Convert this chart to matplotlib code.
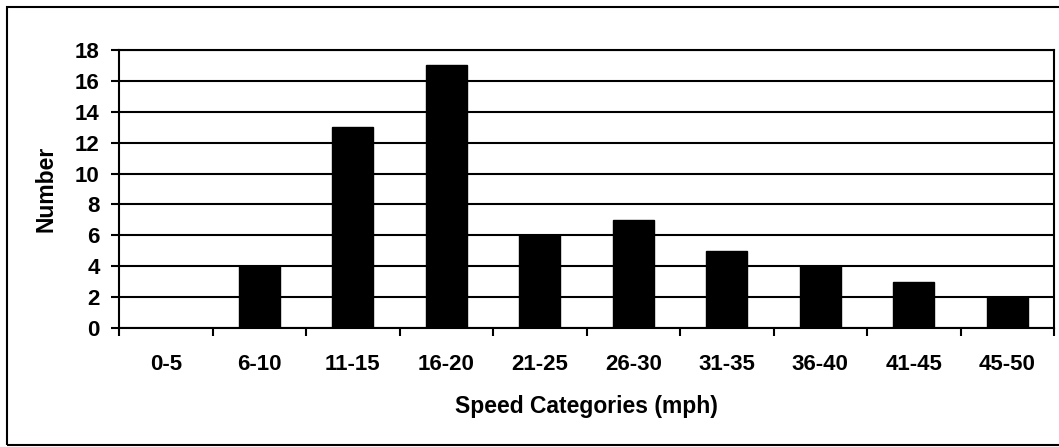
import matplotlib
matplotlib.use("Agg")
import matplotlib.pyplot as plt
from matplotlib.patches import Rectangle

# data
categories = ["0-5", "6-10", "11-15", "16-20", "21-25",
              "26-30", "31-35", "36-40", "41-45", "45-50"]
counts = [0, 4, 13, 17, 6, 7, 5, 4, 3, 2]

plt.rcParams["font.family"] = ["Liberation Sans", "DejaVu Sans"]
plt.rcParams["font.weight"] = "bold"

W, H = 1059, 447
fig = plt.figure(figsize=(W / 100, H / 100), dpi=100)
ax = fig.add_axes([119 / W, (H - 328) / H, (1054 - 119) / W, (328 - 50) / H])

x = list(range(len(categories)))
ax.bar(x, counts, width=0.44, color="black", edgecolor="black", zorder=3)

# y axis
ax.set_ylim(0, 18)
ax.set_yticks(range(0, 19, 2))
ax.yaxis.grid(True, color="black", linewidth=1.5, zorder=1)
ax.tick_params(axis="y", direction="out", length=6, width=1.5,
               labelsize=16, pad=8)

# x axis: tick marks between categories, labels under the bars
ax.set_xlim(-0.5, len(categories) - 0.5)
ax.set_xticks([i - 0.5 for i in range(len(categories) + 1)])
ax.set_xticklabels([])
ax.set_xticks(x, minor=True)
ax.set_xticklabels(categories, minor=True)
ax.tick_params(axis="x", which="major", direction="out", length=6, width=1.5)
ax.tick_params(axis="x", which="minor", length=0, labelsize=16, pad=19)

for s in ax.spines.values():
    s.set_linewidth(1.5)

ax.set_xlabel("Speed Categories (mph)", fontsize=16.5, fontweight="bold")
ax.xaxis.set_label_coords(0.5, -0.24)
ax.set_ylabel("Number", fontsize=16.5, fontweight="bold")
ax.yaxis.set_label_coords(-0.066, 0.5)

# outer chart frame (right side runs off the scan)
fig.patches.append(Rectangle((7 / W, 2 / H), 1.2, (445 - 7) / H,
                             transform=fig.transFigure, fill=False,
                             edgecolor="black", linewidth=1.5))

fig.savefig("out.png", dpi=100)
